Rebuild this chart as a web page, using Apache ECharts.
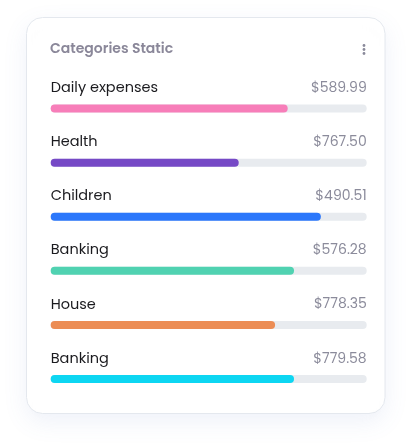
<!DOCTYPE html>
<html><head><meta charset="utf-8">
<script src="https://cdn.jsdelivr.net/npm/echarts@6/dist/echarts.min.js"></script>
<style>html,body{margin:0;padding:0;background:#fff}#c{width:414px;height:448px}</style>
</head><body><div id="c"></div>
<script>
var categories = ['Daily expenses', 'Health', 'Children', 'Banking', 'House', 'Banking'];
var amounts = ['$589.99', '$767.50', '$490.51', '$576.28', '$778.35', '$779.58'];
var progress = [75, 59.5, 85.5, 77, 71, 77];
var colors = ['#f77eb9', '#7649c6', '#2b77fb', '#50d2b1', '#ec8d55', '#0dd6f2'];
var trackMax = 100;

var font = 'Poppins, "Open Sans", sans-serif';
var chart = echarts.init(document.getElementById('c'), null, {renderer: 'canvas'});
chart.setOption({
  animation: false,
  graphic: [
    {type: 'rect', z: -10, shape: {x: 26.5, y: 17.5, width: 358.5, height: 396, r: 16},
     style: {fill: '#fff', stroke: '#e4e8ee', lineWidth: 1, shadowColor: 'rgba(90,120,200,0.10)', shadowBlur: 24, shadowOffsetY: 8}},
    {type: 'text', left: 50, top: 42.5, style: {text: 'Categories Static', font: '600 14px ' + font, fill: '#8a8799'}},
    {type: 'circle', shape: {cx: 364, cy: 45.5, r: 1.4}, style: {fill: '#8a8a9a'}},
    {type: 'circle', shape: {cx: 364, cy: 49.5, r: 1.4}, style: {fill: '#8a8a9a'}},
    {type: 'circle', shape: {cx: 364, cy: 53.5, r: 1.4}, style: {fill: '#8a8a9a'}}
  ],
  grid: {left: 50.7, width: 316, top: 81.5, height: 324.6},
  xAxis: {type: 'value', min: 0, max: trackMax, show: false},
  yAxis: {type: 'category', data: categories, inverse: true, show: false},
  series: [
    {type: 'bar', barWidth: 8, barGap: '-100%', silent: true,
     data: categories.map(function(){return trackMax;}),
     itemStyle: {color: '#e8ebef', borderRadius: 4},
     label: {show: true, position: [0, -16], verticalAlign: 'middle', align: 'left',
       formatter: function(p){return categories[p.dataIndex];},
       color: '#1b1b1f', fontSize: 14.5, fontFamily: font}},
    {type: 'bar', barWidth: 8, barGap: '-100%',
     data: progress.map(function(v, i){return {value: v, itemStyle: {color: colors[i]}};}),
     itemStyle: {borderRadius: 4}},
    {type: 'bar', barWidth: 8, barGap: '-100%', silent: true,
     data: categories.map(function(){return trackMax;}),
     itemStyle: {color: 'rgba(0,0,0,0)'},
     label: {show: true, position: ['100%', -16], verticalAlign: 'middle', align: 'right',
       formatter: function(p){return amounts[p.dataIndex];},
       color: '#8b8b9b', fontSize: 14, fontFamily: font}}
  ]
});
</script></body></html>
